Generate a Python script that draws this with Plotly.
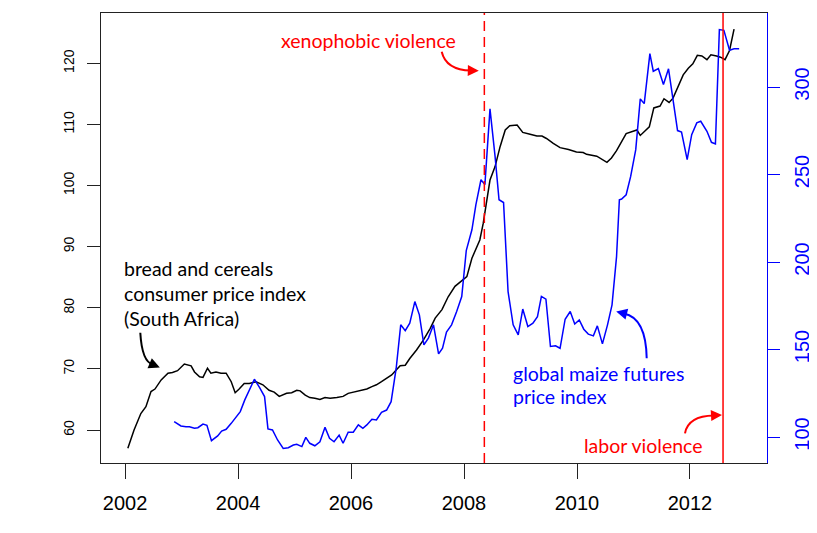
import plotly.graph_objects as go

# ---------------- data ----------------
cpi_year = [2002.05, 2002.16, 2002.28, 2002.37, 2002.46, 2002.53, 2002.64, 2002.76, 2002.84, 2002.93,
            2003.05, 2003.17, 2003.23, 2003.32, 2003.38, 2003.46, 2003.52, 2003.61, 2003.70, 2003.79,
            2003.88, 2003.95, 2004.02, 2004.11, 2004.20, 2004.32, 2004.44, 2004.55, 2004.64, 2004.73,
            2004.86, 2004.95, 2005.04, 2005.10, 2005.19, 2005.27, 2005.36, 2005.45, 2005.54, 2005.63,
            2005.75, 2005.86, 2005.95, 2006.04, 2006.16, 2006.28, 2006.37, 2006.45, 2006.54, 2006.63,
            2006.72, 2006.80, 2006.87, 2006.96, 2007.04, 2007.16, 2007.28, 2007.40, 2007.49, 2007.61,
            2007.72, 2007.84, 2007.96, 2008.05, 2008.14, 2008.22, 2008.28, 2008.34, 2008.40, 2008.46,
            2008.55, 2008.64, 2008.73, 2008.81, 2008.94, 2009.04, 2009.17, 2009.29, 2009.38, 2009.46,
            2009.58, 2009.70, 2009.85, 2009.99, 2010.11, 2010.17, 2010.35, 2010.41, 2010.53, 2010.61,
            2010.70, 2010.87, 2011.06, 2011.12, 2011.28, 2011.36, 2011.47, 2011.54, 2011.63, 2011.70,
            2011.79, 2011.88, 2011.97, 2012.05, 2012.13, 2012.21, 2012.30, 2012.37, 2012.47, 2012.54,
            2012.62, 2012.70, 2012.78]
cpi_value = [57.0, 60.0, 62.7, 63.8, 66.3, 66.7, 68.2, 69.3, 69.4, 69.7,
             70.8, 70.5, 69.5, 68.7, 68.6, 70.1, 69.3, 69.5, 69.3, 69.3,
             67.9, 66.1, 66.7, 67.6, 67.6, 67.9, 67.4, 66.5, 66.2, 65.5,
             66.0, 66.1, 66.5, 66.4, 65.7, 65.3, 65.2, 65.0, 65.3, 65.2,
             65.3, 65.5, 66.0, 66.2, 66.5, 66.7, 67.1, 67.4, 67.9, 68.5,
             69.0, 69.8, 70.5, 70.6, 71.7, 73.1, 74.7, 76.6, 78.3, 79.7,
             81.8, 83.5, 84.5, 85.1, 88.1, 90.0, 91.1, 93.8, 97.6, 100.9,
             103.1, 106.4, 109.1, 109.8, 109.9, 108.7, 108.4, 108.1, 108.1, 107.7,
             106.9, 106.2, 105.9, 105.5, 105.4, 105.1, 104.8, 104.5, 103.8, 104.5,
             105.7, 108.5, 109.1, 108.2, 109.6, 112.7, 113.0, 114.2, 113.6, 114.3,
             116.2, 118.1, 119.2, 119.9, 121.3, 121.2, 120.6, 121.4, 121.2, 121.0,
             120.6, 122.1, 125.6]

maize_year = [2002.87, 2002.99, 2003.08, 2003.14, 2003.23, 2003.29, 2003.38, 2003.45, 2003.53, 2003.64,
              2003.71, 2003.79, 2003.88, 2003.96, 2004.04, 2004.12, 2004.20, 2004.29, 2004.38, 2004.47,
              2004.53, 2004.61, 2004.70, 2004.80, 2004.89, 2004.98, 2005.04, 2005.13, 2005.20, 2005.27,
              2005.36, 2005.45, 2005.54, 2005.62, 2005.70, 2005.79, 2005.86, 2005.95, 2006.04, 2006.13,
              2006.21, 2006.28, 2006.37, 2006.45, 2006.54, 2006.63, 2006.71, 2006.80, 2006.88, 2006.96,
              2007.04, 2007.13, 2007.21, 2007.29, 2007.37, 2007.46, 2007.55, 2007.62, 2007.69, 2007.78,
              2007.87, 2007.96, 2008.04, 2008.14, 2008.21, 2008.30, 2008.37, 2008.46, 2008.55, 2008.62,
              2008.70, 2008.78, 2008.87, 2008.96, 2009.04, 2009.13, 2009.22, 2009.30, 2009.37, 2009.45,
              2009.53, 2009.62, 2009.70, 2009.79, 2009.88, 2009.96, 2010.04, 2010.12, 2010.20, 2010.29,
              2010.36, 2010.45, 2010.54, 2010.62, 2010.70, 2010.75, 2010.79, 2010.87, 2010.95, 2011.04,
              2011.12, 2011.19, 2011.29, 2011.35, 2011.44, 2011.53, 2011.62, 2011.70, 2011.78, 2011.85,
              2011.95, 2012.03, 2012.12, 2012.19, 2012.30, 2012.38, 2012.45, 2012.52, 2012.60, 2012.70,
              2012.78, 2012.87]
maize_value = [108.8, 106.3, 105.9, 105.9, 105.0, 105.3, 107.4, 106.7, 97.9, 100.6,
               103.4, 104.4, 107.8, 111.3, 114.5, 121.2, 126.9, 133.0, 128.4, 123.1,
               104.6, 104.0, 98.3, 93.5, 93.9, 95.4, 95.8, 94.5, 99.8, 96.4,
               95.0, 97.3, 105.5, 99.3, 97.3, 101.1, 96.4, 102.7, 102.7, 106.9,
               105.0, 106.9, 110.1, 109.7, 114.1, 115.4, 120.2, 139.3, 164.1, 160.8,
               165.0, 177.4, 169.8, 152.6, 156.5, 164.1, 147.5, 150.7, 160.0, 164.1,
               171.7, 180.3, 206.5, 218.4, 232.7, 247.0, 244.2, 287.5, 260.4, 235.6,
               234.0, 183.1, 164.1, 158.4, 173.1, 163.1, 165.0, 168.8, 180.3, 178.8,
               151.7, 152.1, 150.7, 167.3, 171.7, 164.6, 166.9, 161.6, 158.8, 157.8,
               163.5, 153.2, 164.1, 175.5, 203.1, 235.6, 236.0, 238.4, 248.9, 264.2,
               293.2, 290.5, 319.1, 309.0, 310.5, 301.4, 310.4, 293.8, 275.1, 274.3,
               258.5, 272.8, 279.5, 280.4, 274.7, 268.4, 267.5, 332.8, 332.4, 321.0,
               321.8, 321.8]

event_xenophobic = 2008.36
event_labor = 2012.585

x_ticks = [2002, 2004, 2006, 2008, 2010, 2012]
y_left_ticks = [60, 70, 80, 90, 100, 110, 120]
y_right_ticks = [100, 150, 200, 250, 300]

# ---------------- layout geometry ----------------
# page body has an 8px default margin, so the figure is offset by (8, 8)
OFF = 8
W, H = 817 - OFF, 533 - OFF
L, R, T, B = 101, 767, 13, 463          # plot box in window pixels
PW, PH = R - L, B - T


def P(px, py):
    return (px - L) / PW, (B - py) / PH


TICKFONT = "Liberation Sans, Arial, sans-serif"
ANNFONT = "Lato, Open Sans, sans-serif"
ANNSIZE = 19.5

fig = go.Figure()
fig.add_trace(go.Scatter(x=cpi_year, y=cpi_value, mode="lines",
                         line=dict(color="black", width=1.5), yaxis="y", showlegend=False))
fig.add_trace(go.Scatter(x=maize_year, y=maize_value, mode="lines",
                         line=dict(color="#0000ff", width=1.5), yaxis="y2", showlegend=False))

shapes = []
shapes.append(dict(type="line", xref="x", yref="paper", x0=event_xenophobic, x1=event_xenophobic,
                   y0=0, y1=1, line=dict(color="#ff0000", width=1.5, dash="10px,6px")))
shapes.append(dict(type="line", xref="x", yref="paper", x0=event_labor, x1=event_labor,
                   y0=0, y1=1, line=dict(color="#ff0000", width=1.5)))


def curve(p0, c, p1, color):
    a, b, cc = P(*p0), P(*c), P(*p1)
    path = f"M {a[0]},{a[1]} Q {b[0]},{b[1]} {cc[0]},{cc[1]}"
    return dict(type="path", xref="paper", yref="paper", path=path,
                line=dict(color=color, width=2))


annotations = []


def head(tip, tail, color):
    x, y = P(*tip)
    annotations.append(dict(x=x, y=y, xref="paper", yref="paper", text="", showarrow=True,
                            ax=tail[0] - tip[0], ay=tail[1] - tip[1], axref="pixel", ayref="pixel",
                            arrowhead=2, arrowsize=1.1, arrowwidth=2, arrowcolor=color, standoff=0))


shapes.append(curve((441.7, 51.7), (446, 70), (471, 70.5), "#ff0000"))
head((478.8, 70.7), (470, 70.5), "#ff0000")
shapes.append(curve((140.3, 332.7), (142, 362), (153, 364.5), "black"))
head((159.8, 367.5), (152, 364.2), "black")
shapes.append(curve((646.7, 358.3), (646, 318), (624, 313.5), "#0000ff"))
head((616.2, 311.5), (625, 313.7), "#0000ff")
shapes.append(curve((685, 433.3), (688, 416), (714, 415.5), "#ff0000"))
head((722, 415), (713, 415.5), "#ff0000")


def text(s, px, py, color, anchor="left"):
    x, y = P(px, py)
    annotations.append(dict(x=x, y=y, xref="paper", yref="paper", text=s, showarrow=False,
                            xanchor=anchor, yanchor="middle",
                            font=dict(family=ANNFONT, size=ANNSIZE, color=color)))


text("xenophobic violence", 368, 40, "#ff0000", anchor="center")
text("bread and cereals", 121.7, 268.3, "black")
text("consumer price index", 121.7, 293.3, "black")
text("(South Africa)", 121.7, 318.3, "black")
text("global maize futures", 511, 373.3, "#0000ff")
text("price index", 511, 396.7, "#0000ff")
text("labor violence", 643.7, 445, "#ff0000", anchor="center")

fig.update_layout(
    width=W, height=H,
    margin=dict(l=L - OFF, r=817 - R, t=T - OFF, b=533 - B, pad=0, autoexpand=False),
    paper_bgcolor="white", plot_bgcolor="white",
    showlegend=False,
    shapes=shapes, annotations=annotations,
    xaxis=dict(range=[2001.575, 2013.363], tickvals=x_ticks, ticktext=[str(v) for v in x_ticks],
               showgrid=False, zeroline=False, showline=True, linecolor="#222", linewidth=1.3,
               mirror=True, ticks="outside", ticklen=15, tickwidth=1.3, tickcolor="#222",
               ticklabelstandoff=7,
               tickfont=dict(family=TICKFONT, size=20, color="black")),
    yaxis=dict(range=[54.60, 128.23], tickvals=y_left_ticks, ticktext=[str(v) for v in y_left_ticks],
               showgrid=False, zeroline=False, showline=True, linecolor="#222", linewidth=1.3,
               ticks="outside", ticklen=13, tickwidth=1.3, tickcolor="#222", tickangle=-90,
               ticklabelstandoff=7,
               tickfont=dict(family=TICKFONT, size=14, color="black")),
    yaxis2=dict(range=[85.14, 342.29], overlaying="y", side="right", anchor="x",
                tickvals=y_right_ticks, ticktext=[str(v) for v in y_right_ticks],
                showgrid=False, zeroline=False, showline=True, linecolor="#0000ff", linewidth=1.3,
                ticks="outside", ticklen=12, tickwidth=1.3, tickcolor="#0000ff", tickangle=-90,
                ticklabelstandoff=5,
                tickfont=dict(family=TICKFONT, size=20, color="#0000ff")),
)

fig.write_html("out.html")
